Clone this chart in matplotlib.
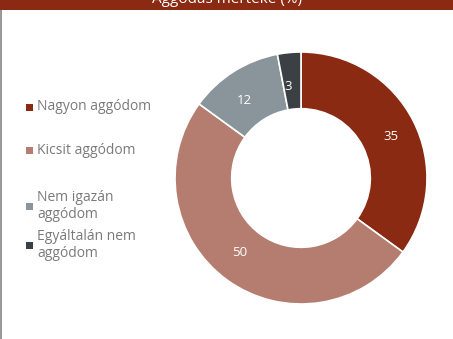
import matplotlib.pyplot as plt
from matplotlib.patches import Rectangle

categories = ['Nagyon aggódom', 'Kicsit aggódom', 'Nem igazán\naggódom', 'Egyáltalán nem\naggódom']
values = [35, 50, 12, 3]
colors = ['#8B2A12', '#B57D70', '#8A949B', '#3B4045']
title = 'Aggódás mértéke (%)'

fig = plt.figure(figsize=(4.53, 3.39), dpi=100)
fig.patch.set_facecolor('white')

# title bar, mostly cut off at the top
fig.patches.append(Rectangle((0, 1 - 10 / 339), 1, 10 / 339, transform=fig.transFigure,
                             facecolor='#8B2A12', edgecolor='none', zorder=0))
fig.patches.append(Rectangle((0, 0), 2 / 453, 1 - 10 / 339, transform=fig.transFigure,
                             facecolor='#9a9a9a', edgecolor='none', zorder=0))
fig.text(227 / 453, 1 - 3 / 339, title, color='white', fontsize=11, ha='center',
         va='baseline', family='Open Sans')

# donut
cx, cy, r = 301, 339 - 178, 126
ax = fig.add_axes([(cx - r) / 453, (cy - r) / 339, 2 * r / 453, 2 * r / 339])
wedges, texts = ax.pie(values, colors=colors, startangle=90, counterclock=False,
                       wedgeprops=dict(width=0.45, edgecolor='white', linewidth=1.2),
                       labels=[str(v) for v in values], labeldistance=0.73,
                       textprops=dict(color='white', fontsize=9.5, family='Open Sans'))
ax.set_xlim(-1, 1)
ax.set_ylim(-1, 1)
ax.set_aspect('equal')

# legend
leg_y = [107, 150, 206, 245]
for lab, col, y in zip(categories, colors, leg_y):
    yy = 1 - y / 339
    fig.patches.append(Rectangle((26 / 453, yy - 3.5 / 339), 7 / 453, 7 / 339,
                                 transform=fig.transFigure, facecolor=col, edgecolor='none'))
    fig.text(37 / 453, yy, lab, color='#7a7a7a', fontsize=10, ha='left', va='center',
             family='Open Sans', linespacing=1.15)

fig.savefig('out.png', dpi=100)
